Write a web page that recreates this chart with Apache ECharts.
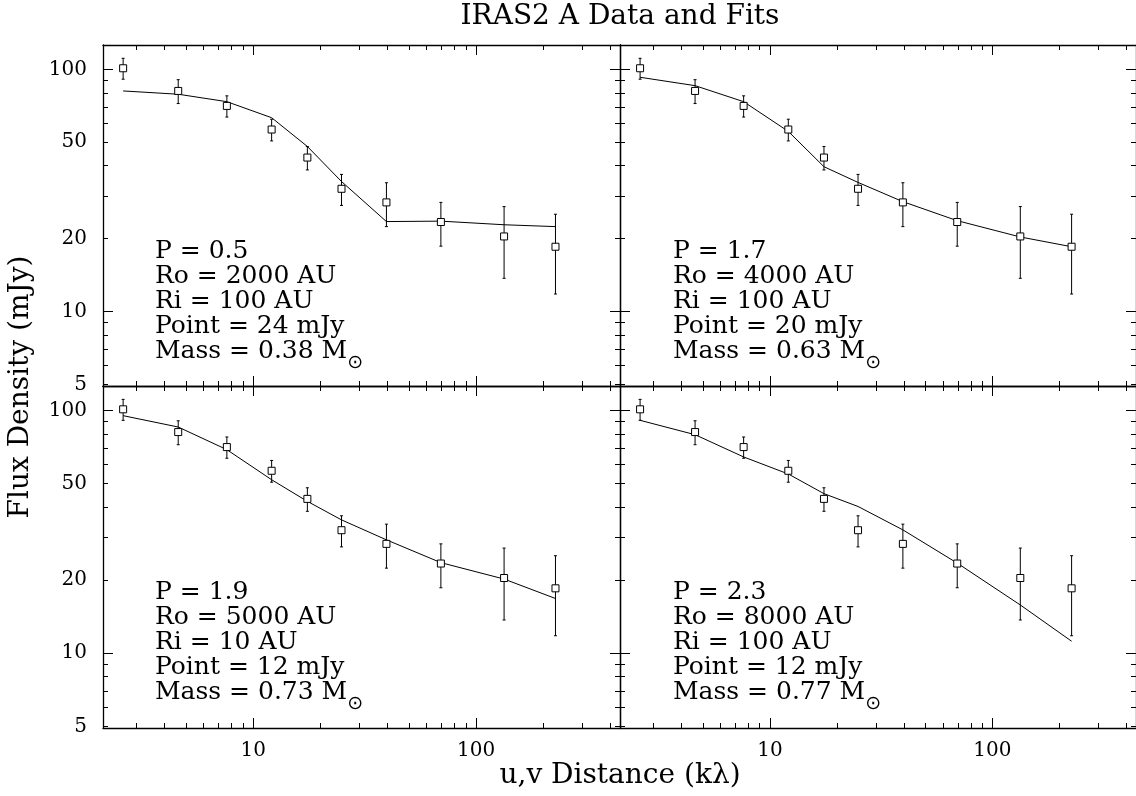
<!DOCTYPE html>
<html><head><meta charset="utf-8">
<script src="https://cdn.jsdelivr.net/npm/echarts@6/dist/echarts.min.js"></script>
<style>html,body{margin:0;padding:0;background:#fff}#c{width:1136px;height:796px}</style>
</head><body><div id="c"></div>
<script>
// ---- data ----
const uvDistance  = [2.61, 4.61, 7.62, 12.1, 17.5, 24.9, 39.6, 69.5, 133.5, 227];
const fluxDensity = [101, 81.4, 70.6, 56.4, 43.2, 32.1, 28.2, 23.4, 20.4, 18.5];
const fluxError   = [10, 9.2, 7.1, 5.8, 4.8, 4.7, 5.8, 4.8, 6.7, 6.7];
const fitP05 = [81.4, 78.9, 73.5, 63.1, 48.0, 34.4, 23.5, 23.6, 22.8, 22.4];
const fitP17 = [92.7, 85.6, 73.5, 55.4, 39.6, 34.1, 28.4, 23.7, 20.3, 18.5];
const fitP19 = [95.1, 85.4, 68.9, 51.8, 42.2, 35.4, 29.3, 23.6, 20.2, 16.8];
const fitP23 = [91.0, 79.4, 64.3, 54.7, 45.4, 40.2, 32.2, 23.5, 15.8, 11.2];
const fits = [fitP05, fitP17, fitP19, fitP23];
const panelText = [
  ['P = 0.5', 'Ro = 2000 AU', 'Ri = 100 AU', 'Point = 24 mJy', 'Mass = 0.38 M'],
  ['P = 1.7', 'Ro = 4000 AU', 'Ri = 100 AU', 'Point = 20 mJy', 'Mass = 0.63 M'],
  ['P = 1.9', 'Ro = 5000 AU', 'Ri = 10 AU', 'Point = 12 mJy', 'Mass = 0.73 M'],
  ['P = 2.3', 'Ro = 8000 AU', 'Ri = 100 AU', 'Point = 12 mJy', 'Mass = 0.77 M']
];
const sunSymbol = '\u2299';
const xMajorTicks = [10, 100];
const xMinorTicks = [3, 4, 5, 6, 7, 8, 9, 20, 30, 40, 50, 60, 70, 80, 90, 200, 300, 400];
const yMajorTicks = [10, 100];
const yMinorTicks = [5, 6, 7, 8, 9, 20, 30, 40, 50, 60, 70, 80, 90];
const yLabelValues = [5, 10, 20, 50, 100];
const xRange = [2.12, 442];
const yRange = [4.92, 126];
const titleText = 'IRAS2 A Data and Fits';
const xTitle = 'u,v Distance (k\u03bb)';
const yTitle = 'Flux Density (mJy)';

// ---- layout ----
const FONT = 'DejaVu Serif';
const grids = [
  {left: 103, top: 45, width: 517, height: 341},
  {left: 620, top: 45, width: 517, height: 341},
  {left: 103, top: 386, width: 517, height: 342},
  {left: 620, top: 386, width: 517, height: 342}
];
const lineCol = '#000';
const tickStyle = {color: lineCol, width: 1};
const fmt = v => String(Math.round(v));

const xAxis = [], yAxis = [];
grids.forEach((g, gi) => {
  const bottomRow = gi >= 2, leftCol = gi % 2 === 0;
  const xb = {type: 'log', logBase: 10, min: xRange[0], max: xRange[1], gridIndex: gi, splitLine: {show: false}, silent: true};
  xAxis.push(
    Object.assign({}, xb, {position: 'bottom', axisLine: {show: true, lineStyle: {color: lineCol, width: 1.3}},
      axisTick: {show: true, inside: true, length: 5, customValues: xMinorTicks, lineStyle: tickStyle}, axisLabel: {show: false}}),
    Object.assign({}, xb, {position: 'bottom', axisLine: {show: false},
      axisTick: {show: true, inside: true, length: 10, customValues: xMajorTicks, lineStyle: tickStyle},
      axisLabel: {show: bottomRow, customValues: xMajorTicks, formatter: fmt, fontFamily: FONT, fontSize: 20, color: '#000', margin: 13}}),
    Object.assign({}, xb, {position: 'top', axisLine: {show: true, lineStyle: {color: lineCol, width: 1.3}},
      axisTick: {show: true, inside: true, length: 5, customValues: xMinorTicks, lineStyle: tickStyle}, axisLabel: {show: false}}),
    Object.assign({}, xb, {position: 'top', axisLine: {show: false},
      axisTick: {show: true, inside: true, length: 10, customValues: xMajorTicks, lineStyle: tickStyle}, axisLabel: {show: false}})
  );
  const yb = {type: 'log', logBase: 10, min: yRange[0], max: yRange[1], gridIndex: gi, splitLine: {show: false}, silent: true};
  yAxis.push(
    Object.assign({}, yb, {position: 'left', axisLine: {show: true, lineStyle: {color: lineCol, width: 1.3}},
      axisTick: {show: true, inside: true, length: 5, customValues: yMinorTicks, lineStyle: tickStyle}, axisLabel: {show: false}}),
    Object.assign({}, yb, {position: 'left', axisLine: {show: false},
      axisTick: {show: true, inside: true, length: 10, customValues: yMajorTicks, lineStyle: tickStyle},
      axisLabel: {show: leftCol, customValues: yLabelValues, formatter: fmt, fontFamily: FONT, fontSize: 20, color: '#000', margin: 16}}),
    Object.assign({}, yb, {position: 'right', axisLine: {show: true, lineStyle: {color: lineCol, width: 1.3}},
      axisTick: {show: true, inside: true, length: 5, customValues: yMinorTicks, lineStyle: tickStyle}, axisLabel: {show: false}}),
    Object.assign({}, yb, {position: 'right', axisLine: {show: false},
      axisTick: {show: true, inside: true, length: 10, customValues: yMajorTicks, lineStyle: tickStyle}, axisLabel: {show: false}})
  );
});

const series = [];
grids.forEach((g, gi) => {
  const ax = gi * 4;
  series.push({
    type: 'line', xAxisIndex: ax, yAxisIndex: ax, symbol: 'none', silent: true,
    lineStyle: {color: '#000', width: 1}, z: 3,
    data: uvDistance.map((x, i) => [x, fits[gi][i]])
  });
  series.push({
    type: 'custom', xAxisIndex: ax, yAxisIndex: ax, silent: true, z: 4,
    data: uvDistance.map((x, i) => [x, fluxDensity[i] - fluxError[i], fluxDensity[i] + fluxError[i]]),
    renderItem: (params, api) => {
      const lo = api.coord([api.value(0), api.value(1)]);
      const hi = api.coord([api.value(0), api.value(2)]);
      const st = {stroke: '#000', lineWidth: 1};
      return {type: 'group', children: [
        {type: 'line', shape: {x1: lo[0], y1: lo[1], x2: hi[0], y2: hi[1]}, style: st},
        {type: 'line', shape: {x1: lo[0] - 1.5, y1: lo[1], x2: lo[0] + 1.5, y2: lo[1]}, style: st},
        {type: 'line', shape: {x1: hi[0] - 1.5, y1: hi[1], x2: hi[0] + 1.5, y2: hi[1]}, style: st}
      ]};
    }
  });
  series.push({
    type: 'scatter', xAxisIndex: ax, yAxisIndex: ax, symbol: 'rect', symbolSize: 7, silent: true, z: 5,
    itemStyle: {color: '#fff', borderColor: '#000', borderWidth: 1, opacity: 1},
    data: uvDistance.map((x, i) => [x, fluxDensity[i]])
  });
});

const graphic = [
  {type: 'text', x: 620, y: 17, style: {text: titleText, fontFamily: FONT, fontSize: 28, fill: '#000', align: 'center', verticalAlign: 'middle'}},
  {type: 'text', x: 620, y: 776, style: {text: xTitle, fontFamily: FONT, fontSize: 28, fill: '#000', align: 'center', verticalAlign: 'middle'}},
  {type: 'text', x: 21, y: 387, rotation: Math.PI / 2, style: {text: yTitle, fontFamily: FONT, fontSize: 28, fill: '#000', align: 'center', verticalAlign: 'middle'}}
];
const textLeft = [155, 673, 155, 673];
const textTop = [251.5, 251.5, 592.5, 592.5];
panelText.forEach((lines, gi) => {
  lines.forEach((t, li) => {
    const isMass = li === lines.length - 1;
    graphic.push({
      type: 'text', x: textLeft[gi], y: textTop[gi] + li * 25,
      style: isMass ? {
        text: '{a|' + t + '}{s|' + sunSymbol + '}',
        align: 'left', verticalAlign: 'middle',
        rich: {
          a: {fontFamily: FONT, fontSize: 25, fill: '#000', color: '#000'},
          s: {fontFamily: 'DejaVu Sans', fontSize: 19, fill: '#000', color: '#000', padding: [24, 0, 0, 0]}
        }
      } : {text: t, fontFamily: FONT, fontSize: 25, fill: '#000', align: 'left', verticalAlign: 'middle'}
    });
  });
});

const chart = echarts.init(document.getElementById('c'), null, {renderer: 'canvas'});
chart.setOption({
  animation: false,
  backgroundColor: '#fff',
  grid: grids.map(g => Object.assign({containLabel: false}, g)),
  xAxis, yAxis, series, graphic
});
</script></body></html>
